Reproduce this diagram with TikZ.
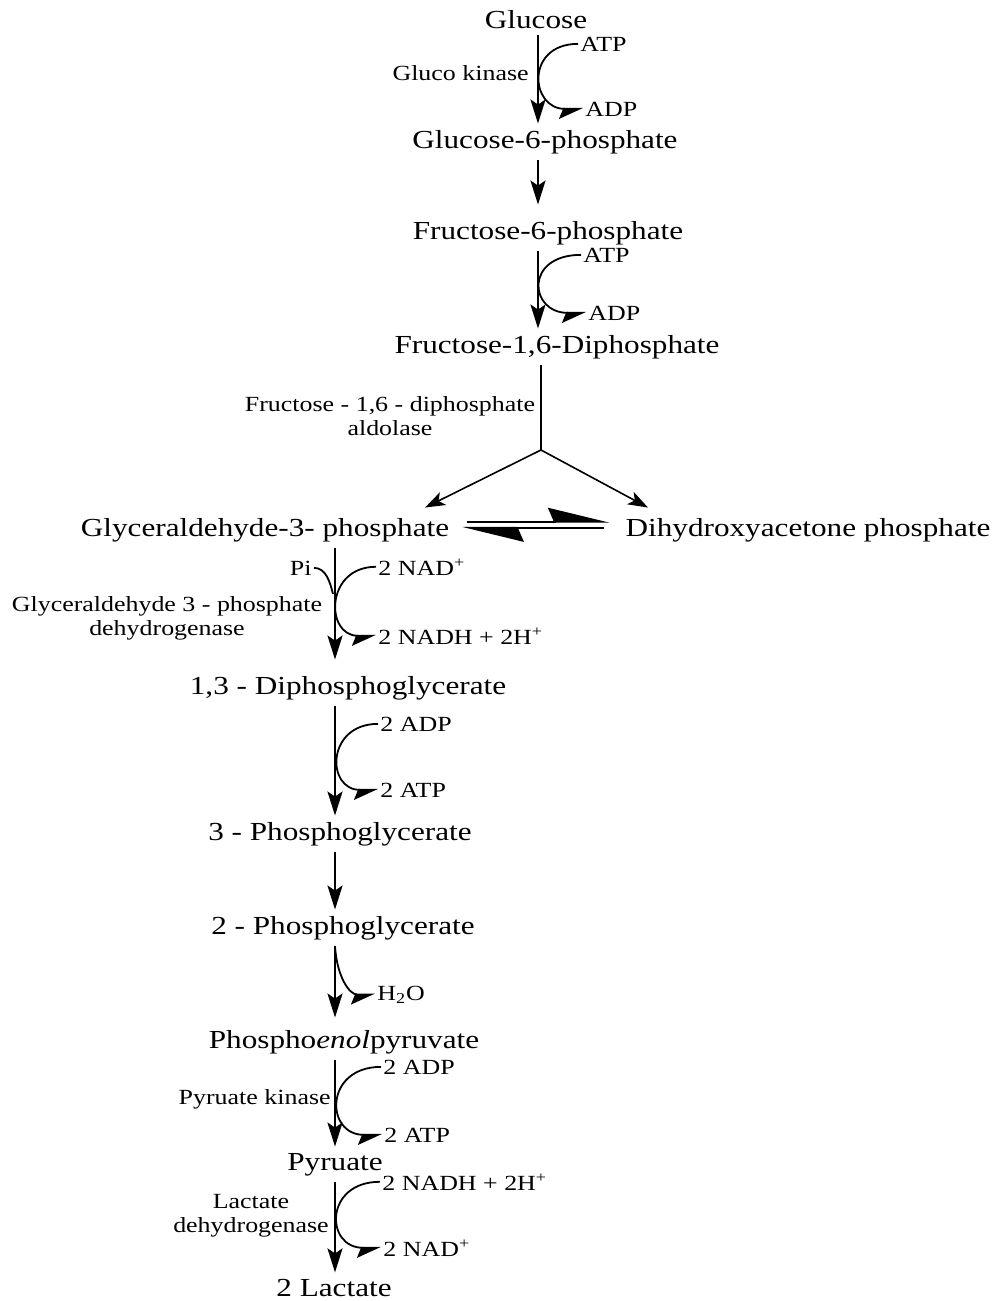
\documentclass[tikz,border=0pt]{standalone}
\usepackage{fontspec}
\setmainfont{Liberation Serif}[FakeStretch=1.2]
\usetikzlibrary{arrows.meta}
\tikzset{met/.style = {font=\fontsize{13}{15}\selectfont, inner sep=3pt, anchor=base}}
\tikzset{cof/.style = {font=\fontsize{10.8}{12}\selectfont, inner sep=1pt, anchor=base west}}
\tikzset{enz/.style = {font=\fontsize{10.8}{12}\selectfont, inner sep=1pt, align=center}}
\tikzset{flow/.style = {line width=1.2pt, -{Stealth[length=12pt, width=7.5pt, inset=2.5pt]}}}
\tikzset{side/.style = {line width=0.9pt, -{Stealth[right, length=11pt, width=10pt, inset=2pt]}}}
\tikzset{splitarr/.style = {line width=0.8pt, -{Stealth[length=10pt, width=7pt, inset=2.5pt]}}}
\tikzset{harp/.style = {line width=0.8pt, -{Stealth[left, length=29pt, width=14pt, inset=3pt]}}}

\begin{document}
\begin{tikzpicture}[x=0.5pt, y=-0.5pt]
      \useasboundingbox (0,0) rectangle (995,1301);
      \coordinate (topax) at (538,0);
      \coordinate (lowax) at (335,0);

      \node [met] (glc) at (536,28) {Glucose};
      \node [cof] (atpa) at (578,51) {ATP};
      \node [cof] (adpa) at (583,116) {ADP};
      \node [enz, anchor=base east] (gk) at (531,80) {Gluco kinase};
      \node [met] (g6p) at (545,148) {Glucose-6-phosphate};
      \node [met] (f6p) at (548,239) {Fructose-6-phosphate};
      \node [cof] (atpb) at (581,262) {ATP};
      \node [cof] (adpb) at (586,320) {ADP};
      \node [met] (fbp) at (557,353) {Fructose-1,6-Diphosphate};
      \node [enz] (ald) at (390,416) {Fructose - 1,6 - diphosphate\\aldolase};
      \coordinate (fork) at (541,450);
      \node [met] (gap) at (265,536) {Glyceraldehyde-3- phosphate};
      \node [met] (dhap) at (808,536) {Dihydroxyacetone phosphate};

      \node [cof, anchor=base east] (pi) at (314,575) {Pi};
      \coordinate (pijoin) at (333,594);
      \node [cof] (nada) at (376,575) {2 NAD\textsuperscript{+}};
      \node [enz] (gapdh) at (167,618) {Glyceraldehyde 3 - phosphate\\dehydrogenase};
      \node [cof] (nadha) at (376,644) {2 NADH + 2H\textsuperscript{+}};
      \node [met] (dpg) at (348,694) {1,3 - Diphosphoglycerate};
      \node [cof] (adpc) at (378,731) {2 ADP};
      \node [cof] (atpc) at (378,797) {2 ATP};
      \node [met] (pga3) at (340,840) {3 - Phosphoglycerate};
      \node [met] (pga2) at (343,934) {2 - Phosphoglycerate};
      \node [cof] (water) at (375,1000) {H\textsubscript{2}O};
      \node [met] (pep) at (344,1048) {Phospho\textit{enol}pyruvate};
      \node [cof] (adpd) at (381,1074) {2 ADP};
      \node [enz, anchor=base east] (pk) at (333,1104) {Pyruate kinase};
      \node [cof] (atpd) at (382,1142) {2 ATP};
      \node [met] (pyr) at (335,1170) {Pyruate};
      \node [cof] (nadhb) at (380,1190) {2 NADH + 2H\textsuperscript{+}};
      \node [enz] (ldh) at (251,1216) {Lactate\\dehydrogenase};
      \node [cof] (nadb) at (381,1256) {2 NAD\textsuperscript{+}};
      \node [met] (lac) at (334,1296) {2 Lactate};

      \draw [flow] (glc.south -| topax) -- (g6p.north -| topax);
      \draw [side] (atpa.west) .. controls +(-53,0) and +(-53,0) .. (adpa.west);
      \draw [flow, shorten >=5pt] (g6p.south -| topax) -- (f6p.north -| topax);
      \draw [flow] (f6p.south -| topax) -- (fbp.north -| topax);
      \draw [side] (atpb.west) .. controls +(-57,0) and +(-57,0) .. (adpb.west);
      \draw [line width=0.8pt] (fbp.south -| fork) -- (fork);
      \draw [splitarr] (fork) -- ([xshift=80pt, yshift=2pt]gap.north);
      \draw [splitarr] (fork) -- ([xshift=-80pt, yshift=2pt]dhap.north);
      \draw [harp, shorten <=6pt, shorten >=5pt] ([yshift=4pt]gap.east) -- ([yshift=4pt]dhap.west);
      \draw [harp, shorten <=7.5pt, shorten >=3.5pt] ([yshift=1pt]dhap.west) -- ([yshift=1pt]gap.east);

      \draw [flow, shorten >=5pt] (gap.south -| lowax) -- (dpg.north -| lowax);
      \draw [line width=0.9pt] (pi.east) .. controls +(12,0) and +(-3,-12) .. (pijoin);
      \draw [side] (nada.west) .. controls +(-51,0) and +(-51,0) .. (nadha.west);
      \draw [flow] (dpg.south -| lowax) -- (pga3.north -| lowax);
      \draw [side] (adpc.west) .. controls +(-52,0) and +(-52,0) .. (atpc.west);
      \draw [flow] (pga3.south -| lowax) -- (pga2.north -| lowax);
      \draw [flow, shorten >=3pt] (pga2.south -| lowax) -- (pep.north -| lowax);
      \draw [side] (pga2.south -| lowax) .. controls +(2,32) and +(-25,0) .. (water.west);
      \draw [flow] (pep.south -| lowax) -- (pyr.north -| lowax);
      \draw [side] (adpd.west) .. controls +(-57,0) and +(-57,0) .. (atpd.west);
      \draw [flow] (pyr.south -| lowax) -- (lac.north -| lowax);
      \draw [side] (nadhb.west) .. controls +(-56,0) and +(-56,0) .. (nadb.west);
\end{tikzpicture}
\end{document}
